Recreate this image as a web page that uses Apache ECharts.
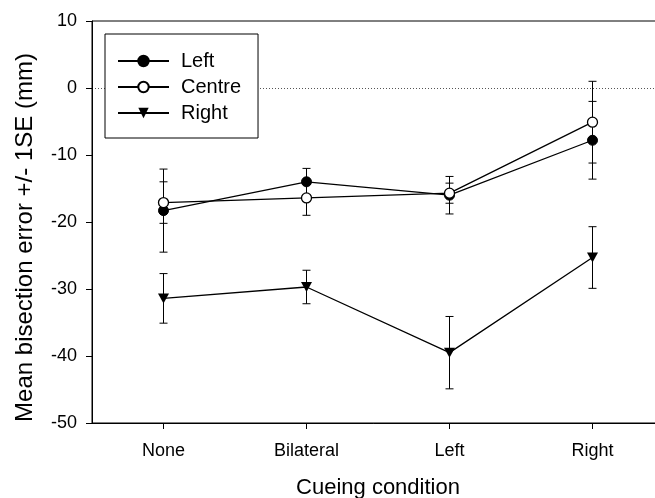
<!DOCTYPE html>
<html>
<head>
<meta charset="utf-8">
<script src="https://cdn.jsdelivr.net/npm/echarts@6/dist/echarts.min.js"></script>
<style>html,body{margin:0;padding:0;background:#fff;overflow:hidden}#c{width:655px;height:498px}</style>
</head>
<body>
<div id="c"></div>
<script>
const categories = ['None', 'Bilateral', 'Left', 'Right'];
const leftMean = [-18.3, -14.0, -16.0, -7.8];
const leftSE = [6.2, 2.0, 2.8, 5.8];
const centreMean = [-17.1, -16.4, -15.7, -5.1];
const centreSE = [3.1, 2.6, 1.5, 6.1];
const rightMean = [-31.4, -29.7, -39.5, -25.3];
const rightSE = [3.7, 2.5, 5.4, 4.6];

const FONT = 'Liberation Sans, Arial, Helvetica, sans-serif';
const triDown = 'path://M0,0 L10,0 L5,10 Z';

function errData(mean, se) {
  return mean.map((m, i) => [i, m - se[i], m + se[i]]);
}
function errSeries(mean, se) {
  return {
    type: 'custom',
    z: 1,
    silent: true,
    encode: { x: 0, y: [1, 2] },
    data: errData(mean, se),
    renderItem: function (params, api) {
      const x = api.value(0);
      const lo = api.coord([x, api.value(1)]);
      const hi = api.coord([x, api.value(2)]);
      const w = 4;
      const st = { stroke: '#000', lineWidth: 1 };
      return {
        type: 'group',
        children: [
          { type: 'line', shape: { x1: lo[0], y1: lo[1], x2: hi[0], y2: hi[1] }, style: st },
          { type: 'line', shape: { x1: lo[0] - w, y1: lo[1], x2: lo[0] + w, y2: lo[1] }, style: st },
          { type: 'line', shape: { x1: hi[0] - w, y1: hi[1], x2: hi[0] + w, y2: hi[1] }, style: st }
        ]
      };
    }
  };
}

const chart = echarts.init(document.getElementById('c'), null, { renderer: 'canvas' });
chart.setOption({
  animation: false,
  backgroundColor: '#fff',
  textStyle: { fontFamily: FONT, color: '#000' },
  grid: { left: 92, top: 21, right: -9, bottom: 75, outerBoundsMode: 'none', containLabel: false, show: true, borderColor: '#000', borderWidth: 1, backgroundColor: 'transparent' },
  legend: {
    left: 105, top: 34,
    orient: 'vertical',
    data: ['Left', 'Centre', 'Right'],
    backgroundColor: '#fff',
    borderColor: '#000',
    borderWidth: 1,
    padding: [17, 17, 15, 12],
    itemWidth: 51,
    itemHeight: 13,
    itemGap: 6,
    textStyle: { fontFamily: FONT, fontSize: 20, color: '#000', lineHeight: 20, padding: [0, 0, 0, 7] },
    z: 10
  },
  xAxis: {
    type: 'category',
    data: categories,
    name: 'Cueing condition',
    nameLocation: 'middle',
    nameGap: 54,
    nameTextStyle: { fontFamily: FONT, fontSize: 22, color: '#000' },
    axisLine: { onZero: false, lineStyle: { color: '#000', width: 1 } },
    axisTick: { show: true, alignWithLabel: true, length: 6, lineStyle: { color: '#000' } },
    axisLabel: { fontFamily: FONT, fontSize: 18, color: '#000', margin: 19 },
    splitLine: { show: false }
  },
  yAxis: {
    type: 'value',
    min: -50, max: 10, interval: 10,
    name: 'Mean bisection error +/- 1SE (mm)',
    nameLocation: 'middle',
    nameGap: 55,
    nameTextStyle: { fontFamily: FONT, fontSize: 24, color: '#000', padding: [0, 31, 0, 0] },
    axisLine: { show: true, lineStyle: { color: '#000', width: 1 } },
    axisTick: { show: true, length: 6, lineStyle: { color: '#000' } },
    axisLabel: { fontFamily: FONT, fontSize: 18, color: '#000', margin: 15 },
    splitLine: { show: false }
  },
  series: [
    errSeries(leftMean, leftSE),
    errSeries(centreMean, centreSE),
    errSeries(rightMean, rightSE),
    {
      name: 'Left', type: 'line', z: 3, data: leftMean,
      symbol: 'circle', symbolSize: 10,
      lineStyle: { color: '#000', width: 1.3 },
      itemStyle: { color: '#000', borderColor: '#000', borderWidth: 1 },
      markLine: {
        silent: true, symbol: 'none', z: 0,
        label: { show: false },
        lineStyle: { type: [1, 2], color: '#555', width: 1 },
        data: [{ yAxis: 0 }]
      }
    },
    {
      name: 'Centre', type: 'line', z: 4, data: centreMean,
      symbol: 'circle', symbolSize: 10,
      lineStyle: { color: '#000', width: 1.3 },
      itemStyle: { color: '#fff', borderColor: '#000', borderWidth: 1.3 }
    },
    {
      name: 'Right', type: 'line', z: 3, data: rightMean,
      symbol: triDown, symbolSize: [11, 10],
      lineStyle: { color: '#000', width: 1.3 },
      itemStyle: { color: '#000', borderColor: '#000', borderWidth: 0 }
    }
  ]
});
</script>
</body>
</html>
